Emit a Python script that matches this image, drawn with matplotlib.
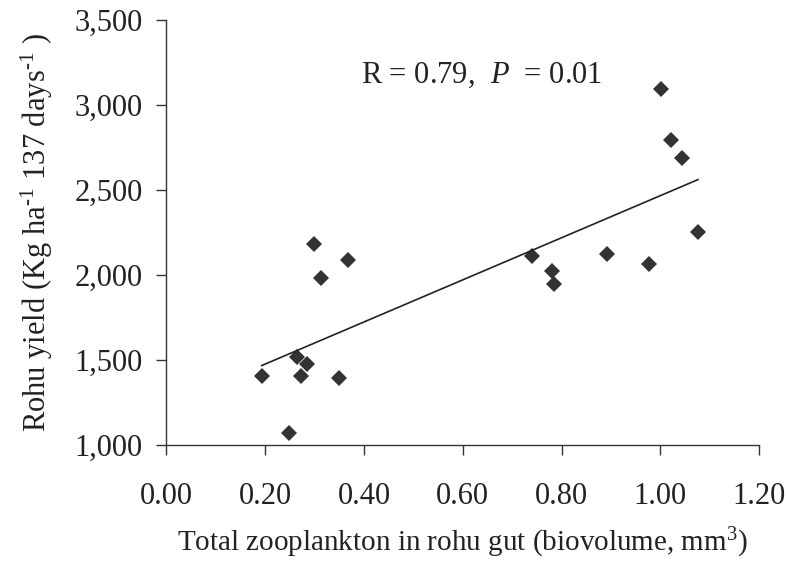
import numpy as np
import matplotlib

matplotlib.use("Agg")

import matplotlib.pyplot as plt
import matplotlib.ticker as mticker

# Data.
zooplankton = [0.193, 0.249, 0.264, 0.273, 0.284, 0.299, 0.313, 0.350, 0.368,
               0.740, 0.780, 0.784, 0.892, 0.976, 1.001, 1.021, 1.044, 1.076]
rohuYield = [1406, 1072, 1519, 1406, 1475, 2182, 1984, 1392, 2088,
             2110, 2024, 1945, 2124, 2065, 3094, 2794, 2690, 2251]
xTicks = [0.0, 0.2, 0.4, 0.6, 0.8, 1.0, 1.2]
yTicks = [1000, 1500, 2000, 2500, 3000, 3500]

# Font settings, Times-like.
plt.rcParams['font.family'] = 'Liberation Serif'
plt.rcParams['mathtext.fontset'] = 'custom'
plt.rcParams['mathtext.rm'] = 'Liberation Serif'
plt.rcParams['mathtext.it'] = 'Liberation Serif:italic'
textColor = '#222222'
fontSize = 22

fig = plt.figure(figsize=(7.88, 5.61), dpi=100, facecolor='white')
ax = fig.add_axes([0.2112, 0.2068, 0.9635 - 0.2112, 0.9643 - 0.2068])

# Scatter points.
ax.plot(zooplankton, rohuYield, linestyle='none', marker='D', markersize=8.5,
        color='#333333', markeredgewidth=0)

# Linear trend line over the range of the data.
slope, intercept = np.polyfit(zooplankton, rohuYield, 1)
xLine = np.array([min(zooplankton), max(zooplankton)])
ax.plot(xLine, slope * xLine + intercept, color='#222222', linewidth=1.2)

# Axis limits and ticks.
ax.set_xlim(0, 1.2)
ax.set_ylim(1000, 3500)
ax.set_xticks(xTicks)
ax.set_yticks(yTicks)
ax.xaxis.set_major_formatter(mticker.FormatStrFormatter('%.2f'))
ax.yaxis.set_major_formatter(mticker.FuncFormatter(lambda v, p: '{:,.0f}'.format(v)))

# Only left and bottom spines.
ax.spines['top'].set_visible(False)
ax.spines['right'].set_visible(False)
for side in ['left', 'bottom']:
  ax.spines[side].set_color('#333333')
  ax.spines[side].set_linewidth(1.0)
ax.tick_params(axis='both', direction='out', length=7, width=1.0,
               color='#333333', labelsize=fontSize, labelcolor=textColor)
ax.tick_params(axis='x', pad=20)
ax.tick_params(axis='y', pad=10)

# Axis labels.
ax.set_xlabel('Total zooplankton in rohu gut (biovolume, mm$^{\\mathregular{3}}$)',
              fontsize=21, color=textColor, labelpad=10)
ax.set_ylabel('Rohu yield (Kg ha$^{\\text{-1}}$ 137 days$^{\\text{-1}}$ )',
              fontsize=fontSize, color=textColor, labelpad=14)

# Correlation annotation.
ax.text(0.394, 3176, 'R = 0.79,  $\\mathit{P}$  = 0.01', fontsize=fontSize,
        color=textColor, va='center', ha='left')

fig.savefig('out.png', dpi=100, facecolor=fig.get_facecolor())
plt.close()
